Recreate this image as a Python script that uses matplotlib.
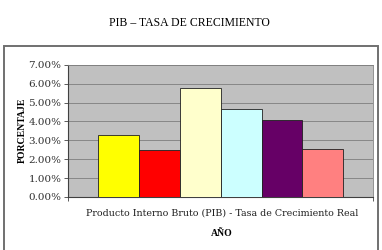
import matplotlib
matplotlib.use("Agg")
import matplotlib.pyplot as plt
from matplotlib.patches import Rectangle
from matplotlib.ticker import FuncFormatter

title = "PIB – TASA DE CRECIMIENTO"
category = "Producto Interno Bruto (PIB) - Tasa de Crecimiento Real"
series_values = [3.26, 2.49, 5.78, 4.65, 4.06, 2.56]
series_colors = ["#FFFF00", "#FF0000", "#FFFFCC", "#CCFFFF", "#660066", "#FF8080"]
y_ticks = [0, 1, 2, 3, 4, 5, 6, 7]

fig = plt.figure(figsize=(3.82, 2.5), dpi=100)
fig.patch.set_facecolor("white")

# outer frame
fig.patches.append(Rectangle((4/382, -0.05), 374/382, 1.05 - 46/250,
                             transform=fig.transFigure, fill=False,
                             edgecolor="#707070", linewidth=1.4))

ax = fig.add_axes([68.3/382, 1 - 197/250, 305/382, 132.3/250])
ax.set_facecolor("#C0C0C0")
positions = list(range(len(series_values)))
ax.bar(positions, series_values, width=1.0, color=series_colors,
       edgecolor="#202020", linewidth=0.6, zorder=3)
ax.set_xlim(-0.5 - 30/40.8, len(series_values) - 0.5 + 30/40.8)
ax.set_ylim(0, 7)
ax.set_yticks(y_ticks)
ax.yaxis.set_major_formatter(FuncFormatter(lambda v, p: f"{v:.2f}%"))
ax.grid(axis="y", color="#707070", linewidth=0.5, zorder=1)
ax.set_xticks([ax.get_xlim()[0], ax.get_xlim()[1]])
ax.set_xticklabels(["", ""])
ax.tick_params(axis="both", direction="out", length=3, width=0.6, color="#404040")
ax.tick_params(axis="y", labelsize=7.5, pad=2, labelcolor="#303030")
for lab in ax.get_yticklabels():
    lab.set_family("DejaVu Serif")
for side in ["top", "right"]:
    ax.spines[side].set_color("#808080")
    ax.spines[side].set_linewidth(0.6)
for side in ["left", "bottom"]:
    ax.spines[side].set_color("#404040")
    ax.spines[side].set_linewidth(0.8)

fig.text(189/382, 1 - 22.7/250, title, ha="center", va="center",
         family="Liberation Serif", fontsize=8.5)
fig.text(222/382, 1 - 212.7/250, category, ha="center", va="center",
         family="DejaVu Serif", fontsize=6.8, color="#202020")
fig.text(222/382, 1 - 233/250, "AÑO", ha="center", va="center",
         family="Liberation Serif", fontsize=7, fontweight="bold")
fig.text(22/382, 1 - 130/250, "PORCENTAJE", ha="center", va="center",
         rotation=90, family="Liberation Serif", fontsize=7, fontweight="bold")

fig.savefig("out.png", dpi=100)
